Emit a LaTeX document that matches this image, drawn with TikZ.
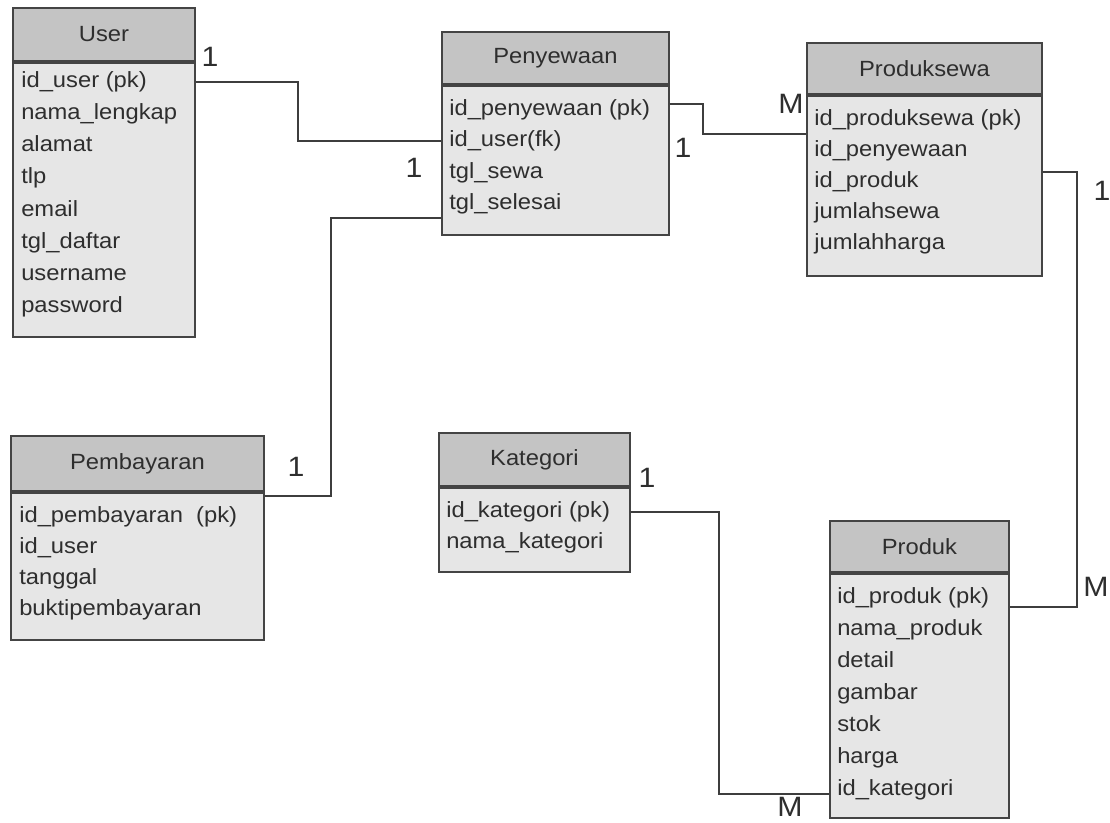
\documentclass[tikz,border=0pt]{standalone}
\usepackage{fontspec}
\setmainfont{Liberation Sans}[FakeStretch=1.08]
\usetikzlibrary{calc}
\definecolor{hdrfill}{HTML}{C4C4C4}
\definecolor{bodyfill}{HTML}{E6E6E6}
\definecolor{edge}{HTML}{444444}
\definecolor{txt}{HTML}{2E2E2E}
\begin{document}
\begin{tikzpicture}[x=0.75pt,y=-0.75pt,
  hdr/.style={draw=edge,line width=1.4pt,fill=hdrfill,anchor=north west,inner sep=0pt,
    font=\fontsize{16.5pt}{19pt}\selectfont,text=txt},
  bodybox/.style={draw=edge,line width=1.4pt,fill=bodyfill,anchor=north west,inner sep=0pt},
  row/.style={anchor=west,inner sep=0pt,text height=11.8pt,text depth=3.6pt,
    font=\fontsize{16.5pt}{19pt}\selectfont,text=txt},
  conn/.style={draw=edge!90!black,line width=1.4pt},
  card/.style={inner sep=0pt,font=\fontsize{21pt}{24pt}\selectfont,text=txt}]
\useasboundingbox (0,0) rectangle (1110,823);

% User
\node[hdr,minimum width=136.5pt,minimum height=39.75pt] (userh) at (12,7) {User};
\node[bodybox,minimum width=136.5pt,minimum height=205.5pt] (userb) at (userh.south west) {};
\node[row] (user1) at (21,82) {id\_user (pk)};
\node[row] (user2) at (21,114) {nama\_lengkap};
\node[row] (user3) at (21,146) {alamat};
\node[row] (user4) at (21,178) {tlp};
\node[row] (user5) at (21,211) {email};
\node[row] (user6) at (21,243) {tgl\_daftar};
\node[row] (user7) at (21,275) {username};
\node[row] (user8) at (21,307) {password};

% Penyewaan
\node[hdr,minimum width=170.25pt,minimum height=39pt] (penh) at (441,31) {Penyewaan};
\node[bodybox,minimum width=170.25pt,minimum height=111.75pt] (penb) at (penh.south west) {};
\node[row] (pen1) at (449,110) {id\_penyewaan (pk)};
\node[row] (pen2) at (449,141) {id\_user(fk)};
\node[row] (pen3) at (449,173) {tgl\_sewa};
\node[row] (pen4) at (449,204) {tgl\_selesai};

% Produksewa
\node[hdr,minimum width=176.25pt,minimum height=38.25pt] (psh) at (806,42) {Produksewa};
\node[bodybox,minimum width=176.25pt,minimum height=135pt] (psb) at (psh.south west) {};
\node[row] (ps1) at (814,120) {id\_produksewa (pk)};
\node[row] (ps2) at (814,151) {id\_penyewaan};
\node[row] (ps3) at (814,182) {id\_produk};
\node[row] (ps4) at (814,213) {jumlahsewa};
\node[row] (ps5) at (814,244) {jumlahharga};

% Pembayaran
\node[hdr,minimum width=189.75pt,minimum height=41.25pt] (payh) at (10,435) {Pembayaran};
\node[bodybox,minimum width=189.75pt,minimum height=110.25pt] (payb) at (payh.south west) {};
\node[row] (pay1) at (19,517) {id\_pembayaran\ \ (pk)};
\node[row] (pay2) at (19,548) {id\_user};
\node[row] (pay3) at (19,579) {tanggal};
\node[row] (pay4) at (19,610) {buktipembayaran};

% Kategori
\node[hdr,minimum width=143.25pt,minimum height=39.75pt] (kh) at (438,432) {Kategori};
\node[bodybox,minimum width=143.25pt,minimum height=63pt] (kb) at (kh.south west) {};
\node[row] (k1) at (446,512) {id\_kategori (pk)};
\node[row] (k2) at (446,543) {nama\_kategori};

% Produk
\node[hdr,minimum width=134.25pt,minimum height=38.25pt] (prh) at (829,520) {Produk};
\node[bodybox,minimum width=134.25pt,minimum height=183pt] (prb) at (prh.south west) {};
\node[row] (pr1) at (837,598) {id\_produk (pk)};
\node[row] (pr2) at (837,630) {nama\_produk};
\node[row] (pr3) at (837,662) {detail};
\node[row] (pr4) at (837,694) {gambar};
\node[row] (pr5) at (837,726) {stok};
\node[row] (pr6) at (837,758) {harga};
\node[row] (pr7) at (837,790) {id\_kategori};

% connectors
\draw[conn] (userb.east |- user1.west) -- ++(102,0) |- (penb.west |- pen2.west);
\draw[conn] ($(payh.south east)+(0,4)$) -- ++(66,0) |- ($(penb.west |- pen4.west)+(0,14)$);
\draw[conn] ($(penb.east |- pen1.west)+(0,-6)$) -- ++(33,0) |- ($(psb.west |- ps1.west)+(0,14)$);
\draw[conn] ($(psb.east |- ps3.west)+(0,-10)$) -- ++(34,0) |- ($(prb.east |- pr1.west)+(0,9)$);
\draw[conn] (kb.east |- k1.west) -- ++(88,0) |- ($(prb.west |- pr7.west)+(0,4)$);

% cardinalities
\node[card] (c1) at (210,57) {1};
\node[card] (c2) at (414,168) {1};
\node[card] (c3) at (791,104) {M};
\node[card] (c4) at (683,148) {1};
\node[card] (c5) at (1102,191) {1};
\node[card] (c6) at (296,467) {1};
\node[card] (c7) at (647,478) {1};
\node[card] (c8) at (1096,587) {M};
\node[card] (c9) at (790,807) {M};
\end{tikzpicture}
\end{document}
